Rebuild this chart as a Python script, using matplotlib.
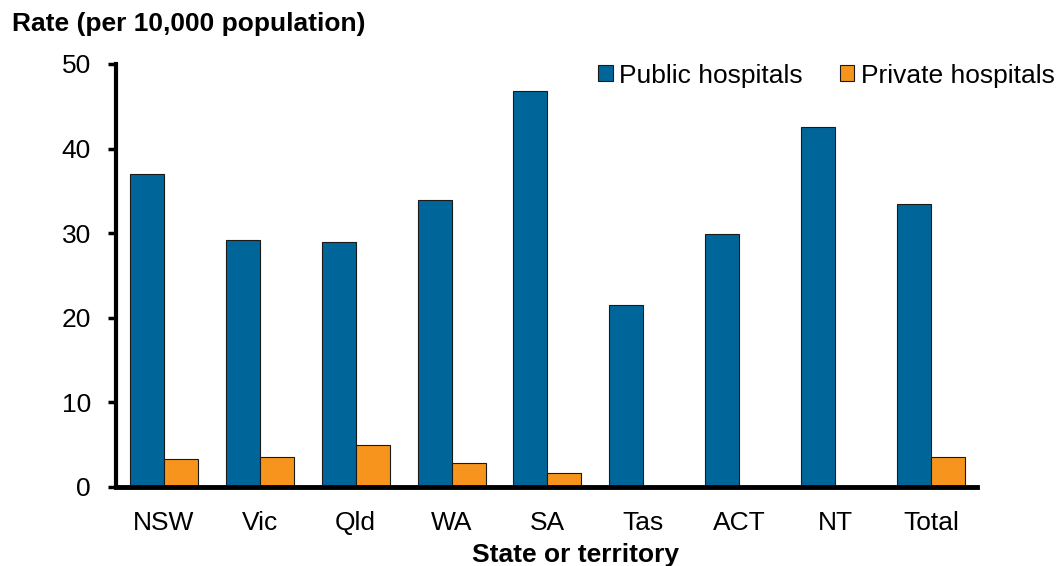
import matplotlib
matplotlib.use("Agg")
import matplotlib.pyplot as plt
import numpy as np

categories = ["NSW", "Vic", "Qld", "WA", "SA", "Tas", "ACT", "NT", "Total"]
public = [37.0, 29.2, 29.0, 33.9, 46.8, 21.5, 29.9, 42.5, 33.4]
private = [3.3, 3.6, 5.0, 2.8, 1.65, 0, 0, 0, 3.5]
yticks = [0, 10, 20, 30, 40, 50]

plt.rcParams['font.family'] = ['Liberation Sans', 'DejaVu Sans']

fig = plt.figure(figsize=(10.58, 5.66), dpi=100)
ax = fig.add_axes([116/1058, 1 - 487/566, 861/1058, (487-64)/566])

x = np.arange(len(categories))
w = 0.355
ax.bar(x - w/2, public, w, color="#006699", edgecolor="#1a1a1a", linewidth=0.8, label="Public hospitals")
priv_vals = [v if v > 0 else np.nan for v in private]
ax.bar(x + w/2, priv_vals, w, color="#F7941D", edgecolor="#1a1a1a", linewidth=0.8, label="Private hospitals")

ax.set_xlim(-0.5, len(categories) - 0.52)
ax.set_ylim(0, 50)
ax.set_yticks(yticks)
ax.set_xticks(x)
ax.set_xticklabels(categories, fontsize=19)
ax.tick_params(axis='y', labelsize=19, length=6, width=2.5, direction='out', pad=12)
ax.tick_params(axis='x', length=0, pad=17)

for s in ["top", "right"]:
    ax.spines[s].set_visible(False)
ax.spines["left"].set_linewidth(3)
ax.spines["bottom"].set_linewidth(3.5)

ax.set_xlabel("State or territory", fontsize=19, fontweight="bold")
ax.xaxis.set_label_coords((576 - 116) / 861, -(566 - 487 + 1) / 423)
ax.xaxis.label.set_va("bottom")
fig.text(0.011, 0.937, "Rate (per 10,000 population)", fontsize=19, fontweight="bold", ha="left", va="bottom")

leg = fig.legend(*ax.get_legend_handles_labels(), loc="upper right", bbox_to_anchor=(1.007, 0.906), ncol=2,
                 frameon=False, fontsize=19, handlelength=0.55, handleheight=0.55, handletextpad=0.25,
                 columnspacing=1.4, borderaxespad=0)

fig.savefig("out.png", dpi=100)
